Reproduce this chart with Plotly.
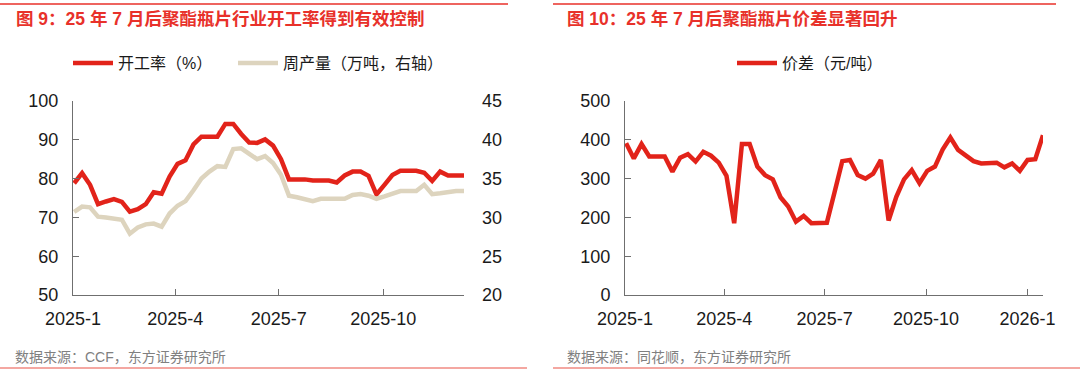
import pandas as pd
import plotly.graph_objects as go

# ---------------- data ----------------
left_dates = pd.date_range("2025-01-02", periods=50, freq="7D")
operating_rate = [78.8, 81.4, 78.4, 73.4, 74.1, 74.7, 74.0, 71.5, 72.1, 73.4,
                  76.5, 76.1, 80.5, 83.8, 84.7, 88.8, 90.8, 90.8, 90.8, 94.1,
                  94.1, 91.5, 89.3, 89.2, 90.1, 88.5, 85.0, 79.8, 79.8, 79.8,
                  79.5, 79.5, 79.5, 79.0, 80.8, 81.8, 81.8, 80.7, 75.9, 78.4,
                  80.9, 82.0, 82.0, 82.0, 81.5, 79.4, 81.8, 80.8, 80.8, 80.8]
weekly_output = [30.7, 31.4, 31.3, 30.1, 30.0, 29.9, 29.7, 27.9, 28.7, 29.1,
                 29.2, 28.8, 30.5, 31.5, 32.1, 33.5, 35.0, 35.9, 36.6, 36.5,
                 38.8, 38.9, 38.2, 37.5, 37.9, 37.0, 35.5, 32.8, 32.6, 32.3,
                 32.1, 32.4, 32.4, 32.4, 32.4, 32.9, 33.0, 32.8, 32.4, 32.7,
                 33.0, 33.4, 33.4, 33.4, 34.2, 33.0, 33.1, 33.3, 33.4, 33.4]

right_dates = pd.date_range("2025-01-02", periods=55, freq="7D")
spread = [391, 352, 389, 357, 357, 357, 318, 354, 363, 344,
          369, 359, 341, 307, 185, 389, 389, 331, 309, 298,
          252, 228, 189, 204, 185, 186, 186, 265, 345, 348,
          309, 300, 313, 348, 192, 253, 298, 322, 288, 320,
          331, 375, 406, 374, 361, 345, 339, 339, 341, 329,
          339, 320, 348, 350, 412]

left_ticks = ["2025-01-01", "2025-04-01", "2025-07-01", "2025-10-01"]
left_ticktext = ["2025-1", "2025-4", "2025-7", "2025-10"]
right_ticks = ["2025-01-01", "2025-04-01", "2025-07-01", "2025-10-01", "2026-01-01"]
right_ticktext = ["2025-1", "2025-4", "2025-7", "2025-10", "2026-1"]

title_left = "图 9：25 年 7 月后聚酯瓶片行业开工率得到有效控制"
title_right = "图 10：25 年 7 月后聚酯瓶片价差显著回升"
source_left = "数据来源：CCF，东方证券研究所"
source_right = "数据来源：同花顺，东方证券研究所"

# ---------------- style ----------------
W, H = 1080, 370
RED = "#E2231A"
BEIGE = "#DDD4BE"
TITLE_RED = "#E8312A"
AXIS = "#6f6f6f"
TXT = "#1a1a1a"
FONT = "Liberation Sans, Arial, Noto Sans CJK SC, sans-serif"


def px_x(v):
    return v / W


def px_y(v):
    return 1 - v / H


fig = go.Figure()
fig.add_trace(go.Scatter(x=left_dates, y=weekly_output, name="周产量（万吨，右轴）",
                         mode="lines", line=dict(color=BEIGE, width=4.5),
                         xaxis="x", yaxis="y2", legend="legend2"))
fig.add_trace(go.Scatter(x=left_dates, y=operating_rate, name="开工率（%）",
                         mode="lines", line=dict(color=RED, width=4.5),
                         xaxis="x", yaxis="y", legend="legend"))
fig.add_trace(go.Scatter(x=right_dates, y=spread, name="价差（元/吨）",
                         mode="lines", line=dict(color=RED, width=4.5),
                         xaxis="x2", yaxis="y3", legend="legend3"))

ydom = [px_y(295), px_y(101)]
axis_common = dict(showgrid=False, zeroline=False, showline=True, linecolor=AXIS,
                   linewidth=1, ticks="inside", ticklen=6, tickcolor=AXIS, automargin=False,
                   tickfont=dict(size=18, color=TXT, family=FONT))

legend_common = dict(xanchor="left", yanchor="middle", orientation="h",
                     bgcolor="rgba(0,0,0,0)", borderwidth=0, itemwidth=40,
                     font=dict(size=16, color=TXT, family=FONT))

fig.update_layout(
    width=W, height=H, margin=dict(l=0, r=0, t=0, b=0, autoexpand=False),
    paper_bgcolor="white", plot_bgcolor="white",
    font=dict(family=FONT, color=TXT),
    xaxis=dict(domain=[px_x(73), px_x(464)], anchor="y", type="date",
               range=["2025-01-01", "2025-12-11"], tickvals=left_ticks,
               ticktext=left_ticktext, ticklabelstandoff=7, **axis_common),
    yaxis=dict(domain=ydom, anchor="x", range=[50, 100], tickvals=[50, 60, 70, 80, 90, 100],
               ticklabelstandoff=10, **axis_common),
    yaxis2=dict(overlaying="y", side="right", anchor="x", range=[20, 45],
                tickvals=[20, 25, 30, 35, 40, 45], showgrid=False, zeroline=False,
                showline=False, ticks="", ticklabelstandoff=17, automargin=False,
                tickfont=dict(size=18, color=TXT, family=FONT)),
    xaxis2=dict(domain=[px_x(625), px_x(1043)], anchor="y3", type="date",
                range=["2025-01-01", "2026-01-15"], tickvals=right_ticks,
                ticktext=right_ticktext, ticklabelstandoff=7, **axis_common),
    yaxis3=dict(domain=ydom, anchor="x2", range=[0, 500],
                tickvals=[0, 100, 200, 300, 400, 500], ticklabelstandoff=10, **axis_common),
    legend=dict(x=px_x(68), y=px_y(63), **legend_common),
    legend2=dict(x=px_x(233), y=px_y(63), **legend_common),
    legend3=dict(x=px_x(732), y=px_y(63), **legend_common),
    showlegend=True,
)

annotations = [
    dict(text=f"<b>{title_left}</b>", x=px_x(14), y=px_y(19), xanchor="left",
         yanchor="middle", font=dict(size=17.5, color=TITLE_RED, family=FONT)),
    dict(text=f"<b>{title_right}</b>", x=px_x(565), y=px_y(19), xanchor="left",
         yanchor="middle", font=dict(size=17.5, color=TITLE_RED, family=FONT)),
    dict(text=source_left, x=px_x(13), y=px_y(357), xanchor="left",
         yanchor="middle", font=dict(size=14, color="#808080", family=FONT)),
    dict(text=source_right, x=px_x(565), y=px_y(357), xanchor="left",
         yanchor="middle", font=dict(size=14, color="#808080", family=FONT)),
]
for a in annotations:
    a.update(xref="paper", yref="paper", showarrow=False)
fig.update_layout(annotations=annotations)

shapes = [
    dict(x0=0, x1=px_x(508), y0=px_y(4), y1=px_y(4), line=dict(color=TITLE_RED, width=1.5)),
    dict(x0=px_x(553), x1=px_x(1056), y0=px_y(4), y1=px_y(4), line=dict(color=TITLE_RED, width=1.5)),
    dict(x0=0, x1=px_x(527), y0=px_y(368), y1=px_y(368), line=dict(color="#F08A82", width=1.5)),
    dict(x0=px_x(553), x1=1, y0=px_y(368), y1=px_y(368), line=dict(color="#F08A82", width=1.5)),
]
for s in shapes:
    s.update(type="line", xref="paper", yref="paper")
fig.update_layout(shapes=shapes)

fig.write_html("out.html", config={"displayModeBar": False},
               post_script="document.body.style.margin='0';document.body.style.overflow='hidden';")
